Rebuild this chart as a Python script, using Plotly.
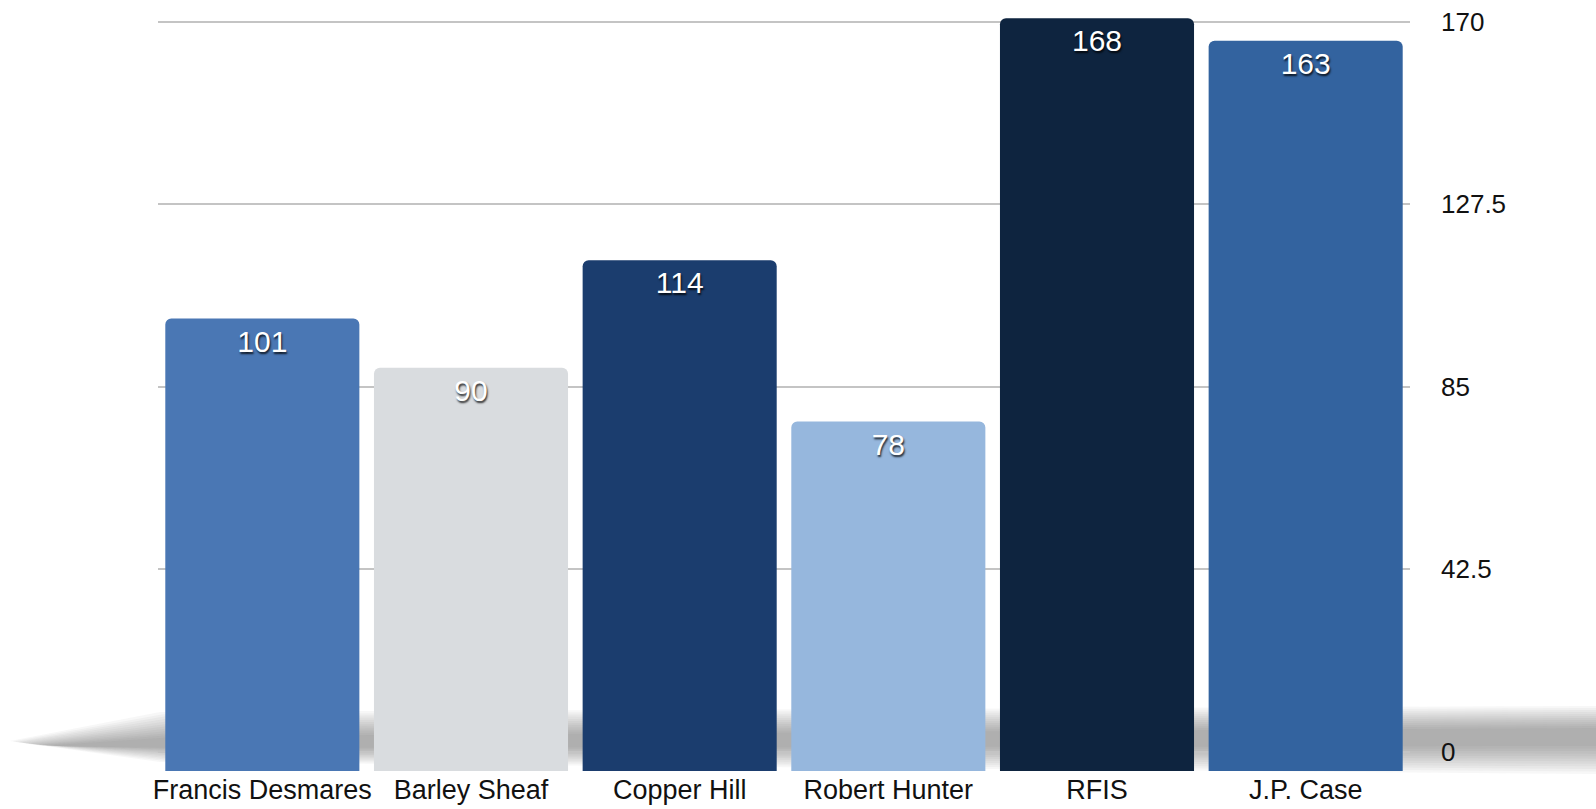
import plotly.graph_objects as go

# Chart data
categories = ["Francis Desmares", "Barley Sheaf", "Copper Hill", "Robert Hunter", "RFIS", "J.P. Case"]
values = [101, 90, 114, 78, 168, 163]
bar_colors = ["#4a77b4", "#d9dcdf", "#1b3d6e", "#96b7dd", "#0e243f", "#33639f"]
tick_values = [0, 42.5, 85, 127.5, 170]
tick_labels = ["0", "42.5", "85", "127.5", "170"]

W, H = 1596, 809
M_L, M_R, M_T, M_B = 158, 186, 5, 38
PW = W - M_L - M_R
PH = H - M_T - M_B
PLOT_BOTTOM = H - M_B

# The bars stand on a front plane that sits slightly lower and reads slightly
# larger than the back wall carrying the value scale.
FRONT_SCALE = 4.48          # px per unit on the front plane
WALL_ZERO = 751.5           # pixel row of 0 on the back wall
WALL_SCALE = 730 / 170      # px per unit on the back wall

front_range = [0, (PLOT_BOTTOM - M_T) / FRONT_SCALE]
wall_range = [-(PLOT_BOTTOM - WALL_ZERO) / WALL_SCALE, (WALL_ZERO - M_T) / WALL_SCALE]


def px(x):
    return (x - M_L) / PW


def py(y):
    return (PLOT_BOTTOM - y) / PH


fig = go.Figure()

# Invisible trace that keeps the back-wall scale (grid + right-hand labels) active
fig.add_trace(go.Scatter(
    x=[categories[0]] * len(tick_values),
    y=tick_values,
    mode="none",
    yaxis="y",
    hoverinfo="skip",
    showlegend=False,
))

fig.add_trace(go.Bar(
    x=categories,
    y=values,
    yaxis="y2",
    marker=dict(color=bar_colors, line=dict(width=0)),
    text=[str(v) for v in values],
    textposition="inside",
    insidetextanchor="end",
    textangle=0,
    textfont=dict(family="Liberation Sans, Arial, sans-serif", size=30, color="white",
                  shadow="1px 2px 2px rgba(0,0,0,0.8)"),
    hoverinfo="skip",
    showlegend=False,
))

# Soft floor shadow behind the bars, built from stacked translucent bands
shapes = []
n_layers = 12
for i in range(n_layers):
    s = i / (n_layers - 1)
    x0 = 10 + 30 * s
    ya0, yb0 = 712 + 24 * s, 762 - 14 * s      # band near the left tip
    ya1, yb1 = 706 + 22 * s, 774 - 28 * s      # band at the right edge
    path = (f"M {px(x0)},{py((ya0 + yb0) / 2 + 4)} "
            f"L {px(x0 + 150)},{py(ya0)} L {px(W)},{py(ya1)} "
            f"L {px(W)},{py(yb1)} L {px(x0 + 150)},{py(yb0)} Z")
    shapes.append(dict(type="path", path=path, xref="paper", yref="paper",
                       fillcolor="rgba(80,80,80,0.045)", line=dict(width=0), layer="below"))

fig.update_layout(
    width=W, height=H,
    margin=dict(l=M_L, r=M_R, t=M_T, b=M_B),
    paper_bgcolor="white",
    plot_bgcolor="rgba(0,0,0,0)",
    showlegend=False,
    bargap=0.07,
    barcornerradius=6,
    shapes=shapes,
    xaxis=dict(
        anchor="y",
        showgrid=False, zeroline=False, showline=False, ticks="",
        tickfont=dict(family="Liberation Sans, Arial, sans-serif", size=27, color="#111111"),
        ticklabelstandoff=0,
    ),
    yaxis=dict(
        anchor="x", side="right", range=wall_range,
        tickvals=tick_values, ticktext=tick_labels,
        showgrid=True, gridcolor="#c4c4c4", gridwidth=2,
        zeroline=True, zerolinecolor="#c4c4c4", zerolinewidth=2,
        showline=False, ticks="",
        tickfont=dict(family="Liberation Sans, Arial, sans-serif", size=26, color="#111111"),
        ticklabelstandoff=30,
    ),
    yaxis2=dict(
        anchor="x", overlaying="y", range=front_range, visible=False,
        showgrid=False, zeroline=False,
    ),
)

fig.write_html("out.html")
